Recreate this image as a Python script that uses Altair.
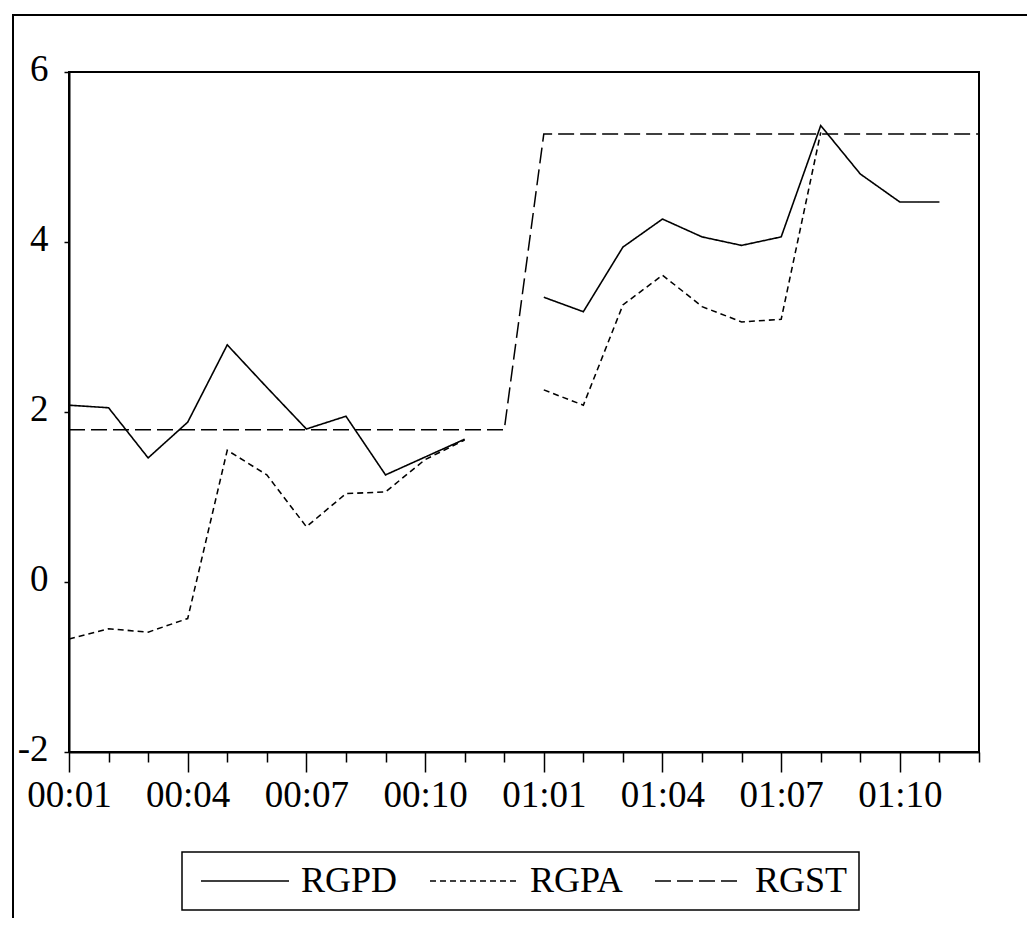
import altair as alt
import pandas as pd

periods = ["00:01", "00:02", "00:03", "00:04", "00:05", "00:06", "00:07", "00:08",
           "00:09", "00:10", "00:11", "00:12", "01:01", "01:02", "01:03", "01:04",
           "01:05", "01:06", "01:07", "01:08", "01:09", "01:10", "01:11", "01:12"]
rgpd = [2.08, 2.05, 1.46, 1.88, 2.79, 2.29, 1.80, 1.95, 1.26, 1.47, 1.68, None,
        3.35, 3.18, 3.94, 4.27, 4.06, 3.96, 4.06, 5.37, 4.80, 4.47, 4.47, None]
rgpa = [-0.67, -0.55, -0.59, -0.43, 1.55, 1.26, 0.65, 1.04, 1.06, 1.44, 1.67, None,
        2.26, 2.08, 3.26, 3.61, 3.24, 3.06, 3.09, 5.29, None, None, None, None]
rgst = [1.79, 1.79, 1.79, 1.79, 1.79, 1.79, 1.79, 1.79, 1.79, 1.79, 1.79, 1.79,
        5.27, 5.27, 5.27, 5.27, 5.27, 5.27, 5.27, 5.27, 5.27, 5.27, 5.27, 5.27]
series_names = ["RGPD", "RGPA", "RGST"]
labelled = ["00:01", "00:04", "00:07", "00:10", "01:01", "01:04", "01:07", "01:10"]
y_ticks = [-2, 0, 2, 4, 6]

rows = []
for name, vals in zip(series_names, [rgpd, rgpa, rgst]):
    seg = 0
    for p, v in zip(periods, vals):
        if v is None:
            seg += 1
            continue
        rows.append({"period": p, "value": v, "series": name, "seg": f"{name}-{seg}"})
df = pd.DataFrame(rows)

FONT = "Liberation Serif"
W, H = 910, 680
lab_arr = "[" + ",".join(f"'{s}'" for s in labelled) + "]"

lines = alt.Chart(df).mark_line(color="black", clip=False).encode(
    x=alt.X("period:O", sort=periods,
            scale=alt.Scale(type="point", padding=0, domain=periods),
            axis=alt.Axis(title=None, labelAngle=0, labelFont=FONT, labelFontSize=37,
                          labelColor="black", labelOverlap=False, labelPadding=5,
                          labelExpr=f"indexof({lab_arr}, datum.value) >= 0 ? datum.value : ''",
                          tickSize={"condition": {"test": f"indexof({lab_arr}, datum.value) >= 0",
                                                  "value": 20}, "value": 10},
                          tickColor="black", tickWidth=1.5,
                          domainColor="black", domainWidth=2, grid=False)),
    y=alt.Y("value:Q", scale=alt.Scale(domain=[-2, 6], nice=False, zero=False),
            axis=alt.Axis(title=None, values=y_ticks, labelFont=FONT, labelFontSize=37,
                          labelExpr="'' + datum.value", labelOffset=-3,
                          labelColor="black", tickSize=5, tickColor="black", tickWidth=1.5,
                          labelPadding=16, domainColor="black", domainWidth=2, grid=False)),
    strokeDash=alt.StrokeDash("series:N",
                              scale=alt.Scale(domain=series_names,
                                              range=[[1, 0], [6, 4], [16, 6]]),
                              legend=alt.Legend(title=None, orient="none", legendX=113,
                                                legendY=780, direction="horizontal",
                                                symbolType="M-1,0H7.8", symbolSize=400,
                                                symbolStrokeColor="black",
                                                symbolFillColor="transparent",
                                                symbolStrokeWidth=2, labelFont=FONT,
                                                labelFontSize=36, labelColor="black",
                                                labelOffset=72, columnPadding=24,
                                                padding=11, strokeColor="black")),
    strokeWidth=alt.StrokeWidth("series:N",
                                scale=alt.Scale(domain=series_names, range=[1.6, 1.5, 2.8]),
                                legend=None),
    detail="seg:N",
)

frame = alt.Chart(alt.Data(values=[{"a": 1}])).mark_rect(
    fill="transparent", stroke="black", strokeWidth=2, clip=False
).encode(
    x=alt.value(-56), x2=alt.value(3000), y=alt.value(-57), y2=alt.value(3000)
)

chart = alt.layer(lines, frame).properties(
    width=W, height=H,
    padding={"left": 61, "top": 64, "right": 48, "bottom": 166},
    autosize=alt.AutoSizeParams(type="none"),
).configure_view(stroke="black", strokeWidth=2).configure_legend(strokeWidth=1.5)

chart.save("out.html", embed_options={"renderer": "svg", "actions": False})
